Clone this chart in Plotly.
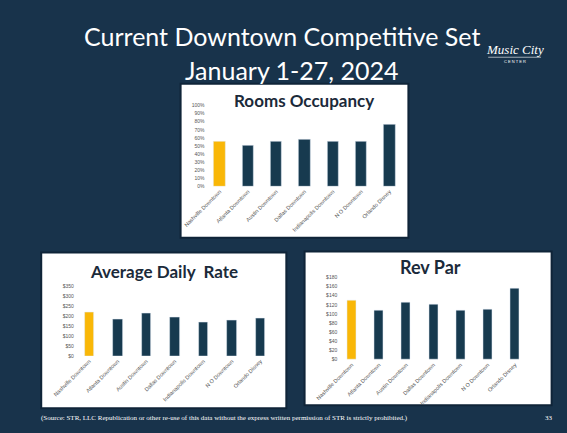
import plotly.graph_objects as go

W, H = 567, 433

categories = ["Nashville Downtown", "Atlanta Downtown", "Austin Downtown", "Dallas Downtown",
              "Indianapolis Downtown", "N O Downtown", "Orlando Disney"]
occupancy = [55, 50, 55, 58, 56, 56, 76]
adr = [221, 183, 213, 193, 170, 178, 191]
revpar = [130, 108, 126, 120, 107, 109, 155]

occ_ticks = [0, 10, 20, 30, 40, 50, 60, 70, 80, 90, 100]
adr_ticks = [0, 50, 100, 150, 200, 250, 300, 350]
revpar_ticks = [0, 20, 40, 60, 80, 100, 120, 140, 160, 180]
occ_labels = [f"{v}%" for v in occ_ticks]
adr_labels = [f"${v}" for v in adr_ticks]
revpar_labels = [f"${v}" for v in revpar_ticks]

NAVY_BG = "#18334b"
BAR = "#173a4f"
GOLD = "#f9b707"
colors = [GOLD] + [BAR] * 6


def px(x):
    return x / W


def py(y):
    return 1 - y / H


fig = go.Figure()
fig.add_bar(x=categories, y=occupancy, marker_color=colors, width=0.4, xaxis="x", yaxis="y")
fig.add_bar(x=categories, y=adr, marker_color=colors, width=0.33, xaxis="x2", yaxis="y2")
fig.add_bar(x=categories, y=revpar, marker_color=colors, width=0.33, xaxis="x3", yaxis="y3")

tickfont = dict(family="Liberation Sans, Arial", size=5, color="#555555")
xcommon = dict(showgrid=False, zeroline=False, showline=False, tickangle=-45,
               tickfont=dict(family="Liberation Sans, Arial", size=5.5, color="#555555"),
               ticks="", fixedrange=True)
ycommon = dict(showgrid=False, zeroline=False, showline=False, ticks="",
               tickfont=tickfont, fixedrange=True)

fig.update_layout(
    width=W, height=H,
    margin=dict(l=0, r=0, t=0, b=0),
    paper_bgcolor=NAVY_BG,
    plot_bgcolor="white",
    showlegend=False,
    bargap=0,
    xaxis=dict(domain=[px(191), px(397)], anchor="y", **xcommon),
    yaxis=dict(domain=[py(186), py(104)], anchor="x", range=[0, 100],
               tickmode="array", tickvals=occ_ticks, ticktext=occ_labels, **ycommon),
    xaxis2=dict(domain=[px(55), px(263)], anchor="y2", **xcommon),
    yaxis2=dict(domain=[py(358), py(287.3)], anchor="x2", range=[0, 350],
                tickmode="array", tickvals=adr_ticks, ticktext=adr_labels, **ycommon),
    xaxis3=dict(domain=[px(329), px(527)], anchor="y3", **xcommon),
    yaxis3=dict(domain=[py(361.7), py(278.3)], anchor="x3", range=[0, 180],
                tickmode="array", tickvals=revpar_ticks, ticktext=revpar_labels, **ycommon),
)

# white panels
panels = [(165, 82, 402, 238), (20, 253, 275, 411), (294, 252, 551, 408)]
for x0, y0, x1, y1 in panels:
    fig.add_shape(type="rect", xref="paper", yref="paper", layer="below",
                  x0=px(x0), x1=px(x1), y0=py(y1), y1=py(y0),
                  fillcolor="white", line=dict(color="#0f2438", width=2))

ann = []
ann.append(dict(text="Current Downtown Competitive Set", x=px(271), y=py(33),
                font=dict(family="Lato, Open Sans", size=25, color="white")))
ann.append(dict(text="January 1-27, 2024", x=px(280), y=py(68),
                font=dict(family="Lato, Open Sans", size=25, color="white")))
ann.append(dict(text="<b>Rooms Occupancy</b>", x=px(293), y=py(99),
                font=dict(family="Lato, Open Sans", size=17, color="#1b2a3a")))
ann.append(dict(text="<b>Average Daily  Rate</b>", x=px(148), y=py(272),
                font=dict(family="Lato, Open Sans", size=17, color="#1b2a3a")))
ann.append(dict(text="<b>Rev Par</b>", x=px(425), y=py(268),
                font=dict(family="Lato, Open Sans", size=18, color="#1b2a3a")))
ann.append(dict(text="(Source: STR, LLC Republication or other re-use of this data without the express written permission of STR is strictly prohibited.)",
                x=px(18), y=py(421), xanchor="left",
                font=dict(family="Liberation Serif, DejaVu Serif", size=7, color="white")))
ann.append(dict(text="33", x=px(548), y=py(421),
                font=dict(family="Liberation Serif, DejaVu Serif", size=7, color="white")))
ann.append(dict(text="<i>Music City</i>", x=px(513), y=py(47),
                font=dict(family="Liberation Serif, DejaVu Serif", size=13, color="white")))
ann.append(dict(text="C E N T E R", x=px(513), y=py(59),
                font=dict(family="Liberation Sans, Arial", size=4, color="white")))
for a in ann:
    a.update(xref="paper", yref="paper", showarrow=False)
    a.setdefault("xanchor", "center")
    a["yanchor"] = "middle"
fig.update_layout(annotations=ann)

fig.add_shape(type="line", xref="paper", yref="paper", x0=px(485), x1=px(540), y0=py(55), y1=py(55),
              line=dict(color="white", width=0.6))

fig.write_html("out.html", config={"displayModeBar": False},
               post_script="document.body.style.margin='0';document.body.style.background='%s';" % NAVY_BG)
